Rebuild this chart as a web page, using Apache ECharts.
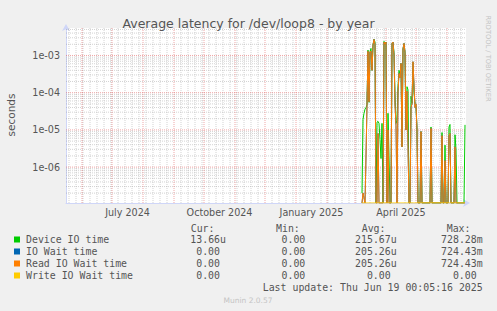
<!DOCTYPE html>
<html>
<head>
<meta charset="utf-8">
<script src="https://cdn.jsdelivr.net/npm/echarts@6/dist/echarts.min.js"></script>
<style>
  html, body { margin: 0; padding: 0; background: #f0f0f0; }
  #chart { width: 497px; height: 311px; }
</style>
</head>
<body>
<div id="chart"></div>
<script>
// daily averages, first point is 2025-03-08, last is 2025-06-19
const firstDay = Date.UTC(2025, 2, 8);

const deviceIO = [
  2e-7, 1.9e-5, 2.8e-5, 3.6e-5, 4.0e-5, 4.7e-5, 1.4e-3, 5.5e-5, 1.25e-3, 1.55e-3,
  4.0e-4, 1.9e-3, 2.75e-3, 2.3e-3, 0, 1.6e-5, 1.7e-5, 1.5e-5, 5.5e-6, 1.7e-6,
  1.5e-5, 0, 2.4e-3, 2.0e-3, 2.3e-3, 0, 2.8e-5, 2.0e-6, 0, 0,
  2.1e-3, 2.3e-3, 1.2e-3, 8.7e-5, 1.5e-5, 1.8e-5, 1.45e-4, 4.0e-4, 3.0e-4, 6.1e-4,
  3.5e-6, 1.5e-3, 2.1e-3, 1.2e-3, 1.0e-5, 1.45e-4, 1.2e-4, 0, 0, 8.0e-5,
  5.2e-5, 6.5e-4, 1.0e-4, 5.2e-5, 4.2e-5, 1.0e-5, 0, 0, 0, 9.0e-6,
  0, 0, 0, 0, 0, 0, 0, 0, 0, 1.2e-5,
  0, 0, 0, 0, 0, 0, 0, 0, 0, 0,
  8.5e-6, 0, 0, 3.9e-6, 0, 0, 0, 1.2e-5, 1.4e-5, 0,
  0, 0, 0, 7.4e-6, 3.0e-6, 0, 0, 0, 0, 0,
  0, 0, 0, 1.366e-5
];

const readWait = [
  0, 2e-7, 1.5e-7, 0, 2.0e-6, 4.5e-5, 1.3e-3, 5.7e-5, 1.25e-3, 1.3e-3,
  4.0e-4, 1.9e-3, 2.7e-3, 2.0e-3, 0, 0, 8.0e-6, 0, 0, 0,
  0, 0, 2.3e-3, 2.0e-3, 2.3e-3, 0, 1.0e-5, 0, 0, 0,
  2.1e-3, 2.3e-3, 1.0e-3, 5.0e-5, 1.3e-5, 0, 1.0e-4, 3.3e-4, 2.5e-4, 6.1e-4,
  3.5e-6, 1.5e-3, 2.1e-3, 1.2e-3, 1.0e-5, 1.1e-4, 3.5e-6, 0, 0, 4.0e-5,
  5.0e-5, 6.8e-4, 1.5e-4, 4.0e-5, 5.0e-5, 1.0e-5, 0, 0, 0, 9.0e-6,
  0, 0, 0, 0, 0, 0, 0, 0, 0, 1.1e-5,
  0, 0, 0, 0, 0, 0, 0, 0, 0, 0,
  7.0e-6, 0, 0, 1.5e-6, 0, 0, 0, 7.0e-6, 8.0e-6, 0,
  0, 0, 0, 3.5e-6, 0, 0, 0, 0, 0, 0,
  0, 0, 0, 0
];

// IO wait is the same as read wait here (fully hidden under the orange line)
const ioWait = readWait.slice();

const writeWait = [
  0, 0, 0, 0, 0, 0, 0, 0, 0, 0, 0, 0, 0, 0, 0, 0, 0, 0, 0, 0,
  0, 0, 0, 0, 0, 0, 0, 0, 0, 0, 0, 0, 0, 0, 0, 0, 0, 0, 0, 0,
  0, 0, 0, 0, 0, 0, 0, 0, 0, 0, 0, 0, 0, 0, 0, 0, 0, 0, 0, 0,
  0, 0, 0, 0, 0, 0, 0, 0, 0, 0, 0, 0, 0, 0, 0, 0, 0, 0, 0, 0,
  0, 0, 0, 0, 0, 0, 0, 0, 0, 0, 0, 0, 0, 0, 0, 0, 0, 0, 0, 0,
  0, 0, 0, 0
];

const seriesNames = ['Device IO time', 'IO Wait time', 'Read IO Wait time', 'Write IO Wait time'];
const seriesColors = ['#00cc00', '#0066b3', '#ff8000', '#ffcc00'];
const curVals = ['13.66u', '0.00', '0.00', '0.00'];
const minVals = ['0.00', '0.00', '0.00', '0.00'];
const avgVals = ['215.67u', '205.26u', '205.26u', '0.00'];
const maxVals = ['728.28m', '724.43m', '724.43m', '0.00'];

const xLabels = ['July 2024', 'October 2024', 'January 2025', 'April 2025'];
const xLabelDates = [Date.UTC(2024, 6, 16, 12), Date.UTC(2024, 9, 16, 12), Date.UTC(2025, 0, 16, 12), Date.UTC(2025, 3, 16)];

const DAY = 86400000;
const xMin = Date.UTC(2024, 4, 16);
const xMax = Date.UTC(2025, 5, 20);
const yMin = 1.086e-7;
const yMax = 5.48e-3;

const FONT = 'DejaVu Sans';
const MONO = 'DejaVu Sans Mono';
const TXT = '#555555';

// grid lines, rrdtool style
let monthLines = [];
for (let m = 5; m <= 17; m++) monthLines.push(Date.UTC(2024, m, 1));
let weekLines = [];
for (let t = Date.UTC(2024, 4, 19); t < xMax; t += 7 * DAY) {
  if (!monthLines.some((mt) => Math.abs(mt - t) < DAY)) weekLines.push(t);
}
let decadeLines = [];
let minorLines = [];
for (let e = -7; e <= -3; e++) {
  if (Math.pow(10, e) > yMin) decadeLines.push(Math.pow(10, e));
  for (let k = 2; k <= 9; k++) {
    let v = k * Math.pow(10, e);
    if (v > yMin && v < yMax) minorLines.push(v);
  }
}

function toSeries(vals) {
  // rrdtool draws zero (and anything below the floor) on the bottom edge
  return vals.map((v, i) => [firstDay + i * DAY, v < yMin ? yMin : v]);
}

// each grid line is a 2-point segment, null breaks between them
function gridSeries(color, xs, ys, z) {
  let pts = [];
  xs.forEach((t) => { pts.push([t, yMin], [t, yMax], [t, null]); });
  ys.forEach((v) => { pts.push([xMin, v], [xMax, v], [xMax, null]); });
  return {
    type: 'line',
    data: pts,
    silent: true,
    z: z,
    showSymbol: false,
    symbol: 'none',
    connectNulls: false,
    lineStyle: { color: color, width: 1, type: [1, 1] }
  };
}

let dataSeries = [deviceIO, ioWait, readWait, writeWait].map((vals, i) => ({
  name: seriesNames[i],
  type: 'line',
  data: toSeries(vals),
  showSymbol: false,
  symbol: 'none',
  z: 5,
  lineStyle: { color: seriesColors[i], width: 1 },
  itemStyle: { color: seriesColors[i] }
}));

// legend block (text, drawn below the plot like rrdtool does)
let legendEls = [];
const colLeft = [190.7, 276, 361.7, 446.7];
const colRight = [226, 311.3, 396.7, 482.7];
['Cur:', 'Min:', 'Avg:', 'Max:'].forEach((h, c) => {
  legendEls.push({
    type: 'text', x: colLeft[c], y: 228,
    style: { text: h, fontFamily: MONO, fontSize: 9.9, fill: TXT, align: 'left', verticalAlign: 'middle' }
  });
});
seriesNames.forEach((name, i) => {
  let y = 239.5 + i * 12;
  legendEls.push({ type: 'rect', shape: { x: 14, y: y - 3, width: 6, height: 6 }, style: { fill: seriesColors[i] } });
  legendEls.push({
    type: 'text', x: 26, y: y,
    style: { text: name, fontFamily: MONO, fontSize: 9.9, fill: TXT, align: 'left', verticalAlign: 'middle' }
  });
  [curVals[i], minVals[i], avgVals[i], maxVals[i]].forEach((v, c) => {
    let right = /[a-zA-Z]$/.test(v) ? colRight[c] : colRight[c] - 6;
    legendEls.push({
      type: 'text', x: right, y: y,
      style: { text: v, fontFamily: MONO, fontSize: 9.9, fill: TXT, align: 'right', verticalAlign: 'middle' }
    });
  });
});
legendEls.push({
  type: 'text', x: 482.7, y: 287,
  style: { text: 'Last update: Thu Jun 19 00:05:16 2025', fontFamily: MONO, fontSize: 9.9, fill: TXT, align: 'right', verticalAlign: 'middle' }
});
legendEls.push({
  type: 'text', x: 248, y: 300.5,
  style: { text: 'Munin 2.0.57', fontFamily: FONT, fontSize: 7.5, fill: '#c4c4c4', align: 'center', verticalAlign: 'middle' }
});
legendEls.push({
  type: 'text', x: 488, y: 58.5, rotation: -Math.PI / 2,
  style: { text: 'RRDTOOL / TOBI OETIKER', fontFamily: FONT, fontSize: 6.7, fill: '#c4c4c4', align: 'center', verticalAlign: 'middle' }
});
legendEls.push({
  type: 'text', x: 11, y: 115, rotation: Math.PI / 2,
  style: { text: 'seconds', fontFamily: FONT, fontSize: 10.5, fill: TXT, align: 'center', verticalAlign: 'middle' }
});

let chart = echarts.init(document.getElementById('chart'), null, { renderer: 'svg' });

let option = {
  animation: false,
  backgroundColor: '#f0f0f0',
  title: {
    text: 'Average latency for /dev/loop8 - by year',
    left: 'center',
    top: 12,
    textStyle: { fontFamily: FONT, fontSize: 12.5, fontWeight: 'normal', color: TXT }
  },
  grid: {
    left: 66, top: 28, width: 400, height: 175,
    show: true, backgroundColor: '#ffffff', borderWidth: 0
  },
  xAxis: {
    type: 'time',
    min: xMin,
    max: xMax,
    axisLine: {
      lineStyle: { color: '#cfd6f8' },
      symbol: ['none', 'arrow'], symbolSize: [6, 7], symbolOffset: [0, 4]
    },
    axisTick: { show: false },
    splitLine: { show: false },
    axisLabel: { show: false }
  },
  yAxis: {
    type: 'log',
    logBase: 10,
    min: yMin,
    max: yMax,
    axisLine: {
      show: true,
      lineStyle: { color: '#cfd6f8' },
      symbol: ['none', 'arrow'], symbolSize: [6, 7], symbolOffset: [0, 4]
    },
    axisTick: { show: false },
    splitLine: { show: false },
    axisLabel: {
      fontFamily: FONT, fontSize: 9.6, color: TXT, margin: 6,
      formatter: (v) => {
        let e = Math.log10(v);
        if (Math.abs(e - Math.round(e)) > 1e-6) return '';
        let n = -Math.round(e);
        return '1e-' + (n < 10 ? '0' + n : n);
      }
    }
  },
  series: [
    gridSeries('rgba(150,150,150,0.42)', weekLines, minorLines, 1),
    gridSeries('rgba(225,80,80,0.5)', monthLines, decadeLines, 2)
  ].concat(dataSeries),
  graphic: legendEls
};

chart.setOption(option);

// month labels, centred in their month, placed through the time axis
let labelEls = xLabelDates.map((t, i) => ({
  type: 'text',
  x: chart.convertToPixel({ xAxisIndex: 0 }, t),
  y: 212.3,
  style: { text: xLabels[i], fontFamily: FONT, fontSize: 9.6, fill: TXT, align: 'center', verticalAlign: 'middle' }
}));
chart.setOption({ graphic: legendEls.concat(labelEls) });
</script>
</body>
</html>
